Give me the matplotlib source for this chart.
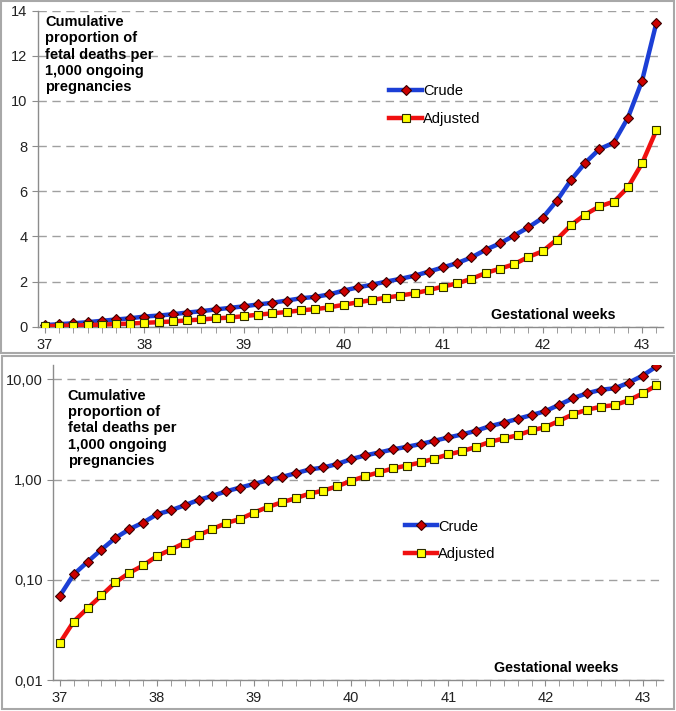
import matplotlib
matplotlib.use("Agg")
import matplotlib.pyplot as plt
import numpy as np
from matplotlib.patches import Rectangle
from matplotlib.ticker import FixedLocator, FixedFormatter, NullLocator

plt.rcParams['font.family'] = ['Liberation Sans', 'DejaVu Sans']

# gestational age in days after 37+0 weeks
days = list(range(44))
crude = [0.069, 0.113, 0.151, 0.20, 0.261, 0.319, 0.372, 0.45, 0.493, 0.554,
         0.626, 0.687, 0.764, 0.832, 0.905, 0.985, 1.06, 1.157, 1.26, 1.32,
         1.43, 1.60, 1.74, 1.86, 2.0, 2.12, 2.26, 2.44, 2.63, 2.82,
         3.07, 3.41, 3.69, 4.04, 4.40, 4.82, 5.58, 6.50, 7.26, 7.87,
         8.15, 9.25, 10.9, 13.45]
adjusted = [0.0234, 0.0383, 0.052, 0.0697, 0.094, 0.117, 0.139, 0.172, 0.20, 0.234,
            0.278, 0.321, 0.369, 0.404, 0.468, 0.533, 0.593, 0.651, 0.724, 0.776,
            0.858, 0.97, 1.08, 1.18, 1.29, 1.38, 1.48, 1.62, 1.78, 1.92,
            2.12, 2.38, 2.57, 2.77, 3.09, 3.34, 3.86, 4.50, 4.97, 5.33,
            5.54, 6.17, 7.24, 8.70]
weeks = [37, 38, 39, 40, 41, 42, 43]
lin_ticks = [0, 2, 4, 6, 8, 10, 12, 14]
log_ticks = [0.01, 0.1, 1, 10]
log_labels = ["0,01", "0,10", "1,00", "10,00"]

ylabel = "Cumulative\nproportion of\nfetal deaths per\n1,000 ongoing\npregnancies"
x = 37 + np.array(days) / 7.0

W, H = 676, 711
fig = plt.figure(figsize=(W / 100, H / 100), dpi=100)

def px_axes(left, top, right, bottom):
    return fig.add_axes([left / W, 1 - bottom / H, (right - left) / W, (bottom - top) / H])

# panel frames
for (l, t, r, b) in [(1, 1, 674, 353), (2, 356, 674, 709)]:
    fig.patches.append(Rectangle((l / W, 1 - b / H), (r - l) / W, (b - t) / H,
                                 transform=fig.transFigure, fill=False,
                                 edgecolor='#a8a8a8', lw=1.5))

def style(ax):
    for s in ['top', 'right']:
        ax.spines[s].set_visible(False)
    for s in ['left', 'bottom']:
        ax.spines[s].set_color('#8c8c8c')
        ax.spines[s].set_linewidth(1)
    ax.set_xlim(36.93, 43.21)
    ax.xaxis.set_major_locator(FixedLocator(weeks))
    ax.xaxis.set_minor_locator(FixedLocator(list(x)))
    ax.tick_params(axis='both', which='both', color='#8c8c8c', length=4,
                   labelsize=10.5, labelcolor='#222222')
    ax.tick_params(axis='x', which='major', pad=4)
    ax.yaxis.grid(True, linestyle=(0, (6, 4)), color='#a0a0a0', lw=1)
    ax.set_axisbelow(True)
    ax.plot(x, crude, color='#1c3fd6', lw=3.2, marker='D', ms=5.2,
            mfc='#cc0000', mec='#3a0000', mew=0.8, label='Crude', zorder=3)
    ax.plot(x, adjusted, color='#f01010', lw=3.2, marker='s', ms=5.5,
            mfc='#ffff00', mec='#2a2a00', mew=0.8, label='Adjusted', zorder=3)
    ax.text(0.825, 0.015, "Gestational weeks", transform=ax.transAxes,
            ha='center', va='bottom', fontsize=10.3, fontweight='bold')

# top: linear
ax1 = px_axes(38, 10.7, 663, 326.7)
style(ax1)
ax1.set_ylim(0, 14)
ax1.yaxis.set_major_locator(FixedLocator(lin_ticks))
ax1.text(37.0, 13.8, ylabel, ha='left', va='top', fontsize=10.5,
         fontweight='bold', linespacing=1.2)
ax1.legend(loc='upper left', bbox_to_anchor=(0.553, 0.786), frameon=False,
           fontsize=10.5, handlelength=2.2, handletextpad=0.1, labelspacing=0.95,
           borderaxespad=0)

# bottom: log
ax2 = px_axes(53, 365, 663, 680)
style(ax2)
ax2.set_yscale('log')
ax2.set_ylim(0.01, 13.9)
ax2.yaxis.set_major_locator(FixedLocator(log_ticks))
ax2.yaxis.set_major_formatter(FixedFormatter(log_labels))
ax2.yaxis.set_minor_locator(NullLocator())
ax2.text(37.08, 8.0, ylabel, ha='left', va='top', fontsize=10.5,
         fontweight='bold', linespacing=1.2)
ax2.legend(loc='upper left', bbox_to_anchor=(0.567, 0.528), frameon=False,
           fontsize=10.5, handlelength=2.2, handletextpad=0.1, labelspacing=0.95,
           borderaxespad=0)

fig.savefig("out.png", dpi=100)
